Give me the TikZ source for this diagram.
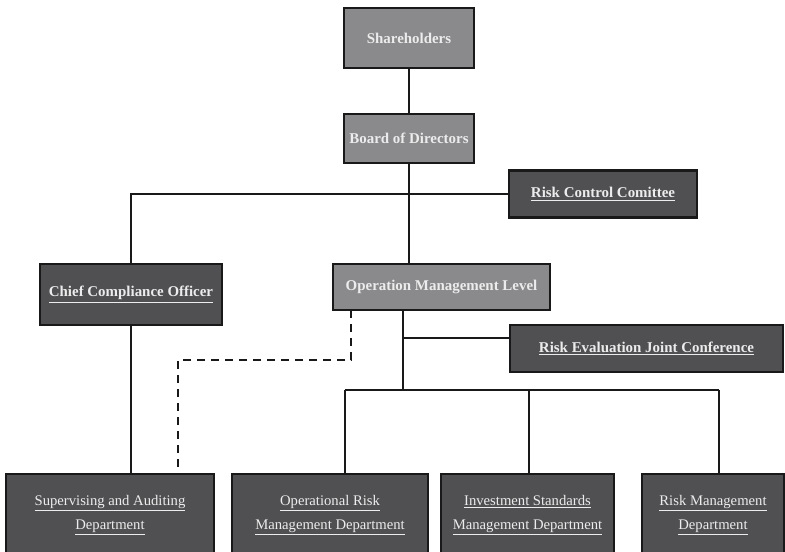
\documentclass[tikz,border=0pt]{standalone}
\usepackage{fontspec}
\setmainfont{Liberation Serif}
\definecolor{lightbox}{RGB}{138,138,141}
\definecolor{darkbox}{RGB}{80,80,83}
\definecolor{boxtext}{RGB}{236,236,236}
\tikzset{
  link/.style={draw=black!90,line width=1.1pt},
  dotlink/.style={link,dash pattern=on 6pt off 4.5pt},
  toplev/.style={draw=black!90,line width=1.8pt,fill=lightbox,text=boxtext,inner sep=0pt,font=\fontsize{11.2}{13}\selectfont\bfseries},
  sidebox/.style={draw=black!90,line width=1.8pt,fill=darkbox,text=boxtext,inner sep=0pt,font=\fontsize{11.2}{13}\selectfont\bfseries},
  deptbox/.style={draw=black!90,line width=1.8pt,fill=darkbox,text=boxtext,inner sep=0pt,align=center,font=\fontsize{11}{18}\selectfont},
}
\begin{document}
\begin{tikzpicture}[x=0.75pt,y=-0.75pt]
  \useasboundingbox (0,0) rectangle (785,552);
  \clip (0,0) rectangle (785,552);
  \node[toplev,minimum width=130*0.75pt,minimum height=60*0.75pt] (sh) at (409,38) {Shareholders};
  \node[toplev,minimum width=130*0.75pt,minimum height=49*0.75pt] (bod) at (409,138.5) {Board of Directors};
  \node[sidebox,minimum width=188*0.75pt,minimum height=47*0.75pt] (rcc) at (603,194) {\underline{Risk Control Comittee}};
  \node[sidebox,minimum width=182*0.75pt,minimum height=61*0.75pt] (cco) at (131,294.5) {\underline{Chief Compliance Officer}};
  \node[toplev,minimum width=217*0.75pt,minimum height=46*0.75pt] (oml) at (441.5,287) {Operation Management Level};
  \node[sidebox,minimum width=273*0.75pt,minimum height=47*0.75pt] (rej) at (646.5,348.5) {\underline{Risk Evaluation Joint Conference}};
  \node[deptbox,minimum width=208*0.75pt,minimum height=100*0.75pt] (sad) at (110,524) {\underline{Supervising and Auditing}\\\underline{Department}\\\mbox{}};
  \node[deptbox,minimum width=196*0.75pt,minimum height=100*0.75pt] (ord) at (330,524) {\underline{Operational Risk}\\\underline{Management Department}\\\mbox{}};
  \node[deptbox,minimum width=173*0.75pt,minimum height=100*0.75pt] (isd) at (527.5,524) {\underline{Investment Standards}\\\underline{Management Department}\\\mbox{}};
  \node[deptbox,minimum width=142*0.75pt,minimum height=100*0.75pt] (rmd) at (713,524) {\underline{Risk Management}\\\underline{Department}\\\mbox{}};
  % junctions
  \coordinate (omlfoot) at (403,310);
  \coordinate (rejtap) at (403,338);
  \coordinate (busmid) at (403,390);
  \coordinate (busl) at (345,390);
  \coordinate (busr) at (719,390);
  \coordinate (busi) at (529,390);
  \coordinate (dashtop) at (351,310);
  \coordinate (dashbend) at (178,360);
  % solid links
  \draw[link] (sh.south) -- (bod.north);
  \draw[link] (bod.south) -- (bod.south |- oml.north);
  \draw[link] (cco.north) |- (rcc.west);
  \draw[link] (cco.south) -- (cco.south |- sad.north);
  \draw[link] (omlfoot) -- (busmid);
  \draw[link] (rejtap) -- (rejtap -| rej.west);
  \draw[link] (busl) -- (busr);
  \draw[link] (busl) -- (busl |- ord.north);
  \draw[link] (busi) -- (busi |- isd.north);
  \draw[link] (busr) -- (busr |- rmd.north);
  % dashed report line
  \draw[dotlink] (dashtop) |- (dashbend) -- (dashbend |- sad.north);
\end{tikzpicture}
\end{document}
